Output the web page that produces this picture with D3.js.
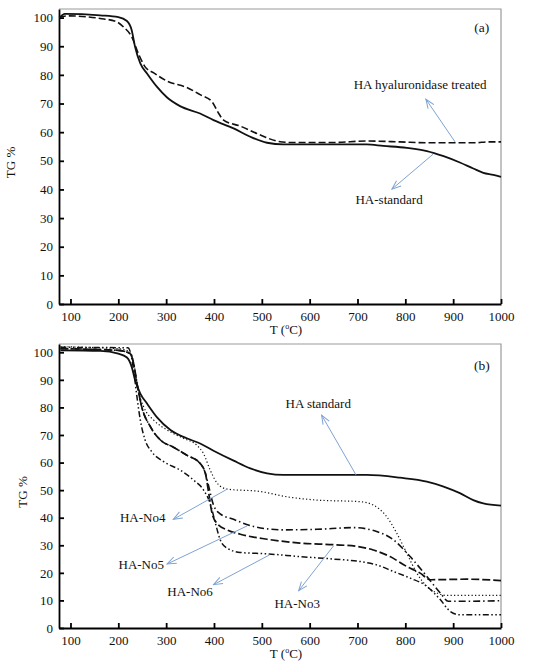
<!DOCTYPE html>
<html>
<head>
<meta charset="utf-8">
<script src="https://cdn.jsdelivr.net/npm/d3@7"></script>
<style>
    body { margin: 0; background: #fff; }
    text { font-family: "Liberation Serif", "DejaVu Serif", serif; fill: #111; }
</style>
</head>
<body>
<div id="chart"></div>
<script>

// ---- data ----
// panel (a)
const tStdA = [78, 88, 162, 200, 218, 228, 235, 246, 260, 281, 302, 329, 371, 399, 441, 476, 511, 545, 650, 719, 754, 803, 845, 880, 914, 942, 963, 984, 1000];
const tgStdA = [100.1, 101.3, 100.8, 100.2, 98.8, 95.6, 89.8, 84, 80.5, 75.8, 72.1, 69.1, 66.5, 64.2, 61.3, 58.4, 56.3, 55.7, 55.7, 55.7, 55.2, 54.5, 53.4, 51.6, 49.4, 47.3, 45.8, 45.1, 44.4];

const tHyal = [76, 93, 162, 197, 211, 228, 242, 256, 274, 302, 343, 371, 396, 410, 420, 455, 497, 531, 559, 650, 719, 789, 845, 914, 949, 970, 1000];
const tgHyal = [100, 100.6, 99.7, 98.5, 96.7, 93.3, 87.4, 82.8, 80.7, 77.8, 75.6, 73.1, 70.6, 66.5, 64.2, 62.1, 59, 56.9, 56.4, 56.4, 56.9, 56.6, 56.3, 56.3, 56.3, 56.6, 56.6];

// panel (b)
const tStdB = [79, 162, 200, 218, 228, 235, 246, 260, 281, 309, 343, 371, 399, 441, 476, 511, 545, 719, 789, 845, 880, 914, 942, 963, 1000];
const tgStdB = [100.7, 100.5, 99.5, 98.1, 94.7, 89.9, 85, 81.4, 76.4, 71.8, 68.8, 66.9, 64.3, 60.7, 57.9, 56.1, 55.5, 55.5, 54.5, 53.1, 51.3, 48.9, 46.4, 45.2, 44.4];

const tNo4 = [79, 200, 225, 235, 242, 253, 274, 302, 336, 364, 378, 392, 406, 427, 497, 552, 615, 706, 733, 761, 782, 803, 824, 845, 866, 887, 1000];
const tgNo4 = [102, 101.3, 100.1, 93.5, 86.2, 80.2, 75.4, 71.8, 68.8, 66.3, 63.3, 57.3, 52.7, 50.4, 49.5, 47.6, 46.4, 45.8, 44.6, 40.4, 34.4, 27.1, 19.9, 15.1, 12.7, 11.8, 11.8];

const tNo3 = [79, 200, 225, 232, 239, 249, 267, 288, 316, 343, 371, 382, 389, 396, 406, 427, 455, 511, 580, 650, 699, 733, 768, 803, 831, 852, 928, 1000];
const tgNo3 = [101.3, 100.7, 99.5, 95.9, 88.7, 80.2, 73, 68.2, 65.5, 62.7, 59.7, 56.1, 48.9, 41.6, 38, 35.6, 34, 32.2, 30.8, 30.2, 29.6, 28.3, 25.9, 22.3, 19.9, 17.5, 17.7, 17.2];

const tNo5 = [79, 200, 225, 232, 239, 249, 267, 288, 316, 343, 371, 382, 389, 399, 413, 441, 483, 545, 615, 692, 740, 775, 810, 845, 873, 890, 928, 1000];
const tgNo5 = [101.3, 100.7, 99.5, 95.9, 88.7, 80.2, 73, 68.2, 65.5, 62.7, 59.7, 56.1, 51.3, 44.6, 41.4, 39.4, 36.8, 35.6, 35.8, 36.4, 35, 32, 25.9, 18.7, 12.7, 9.7, 9.7, 9.9];

const tNo6 = [79, 220, 225, 232, 239, 246, 256, 270, 295, 329, 357, 378, 392, 403, 413, 427, 455, 511, 580, 650, 706, 740, 775, 810, 845, 873, 894, 914, 1000];
const tgNo6 = [101.8, 101.6, 100.1, 93.5, 83.8, 75.4, 68.2, 63.9, 60.3, 57.3, 53.7, 50.1, 45.2, 38, 32, 29, 27.4, 26.9, 25.9, 25, 24.1, 22.9, 20.5, 18.1, 15.1, 10.3, 6, 4.8, 4.8];

const xTicks = [100, 200, 300, 400, 500, 600, 700, 800, 900, 1000];
const yTicks = [0, 10, 20, 30, 40, 50, 60, 70, 80, 90, 100];

// annotation texts with their arrows, in data units [T, TG]
const notesA = [
    {text: "HA hyaluronidase treated", at: [831, 76.7], from: [904, 56.6], to: [843, 71.5]},
    {text: "HA-standard", at: [766, 36.6], from: [858, 52.3], to: [772, 40.1]}
];
const notesB = [
    {text: "HA standard", at: [618, 81.6], from: [697, 55.5], to: [625, 77.2]},
    {text: "HA-No4", at: [251, 40], from: [427, 50.3], to: [315, 39.4]},
    {text: "HA-No5", at: [248, 22.9], from: [469, 37], to: [302, 23.2]},
    {text: "HA-No6", at: [350, 13.2], from: [516, 26.5], to: [399, 15.7]},
    {text: "HA-No3", at: [574, 8.8], from: [650, 29.8], to: [577, 13.5]}
];


class TgPanel {

    constructor(svg, box, series, notes, tag, yLabelX) {
        this.svg = svg;
        this.box = box;
        this.series = series;
        this.notes = notes;
        this.tag = tag;
        this.yLabelX = yLabelX;
        this.initVis();
    }

    initVis() {
        let vis = this;

        vis.x = d3.scaleLinear()
            .domain([76, 1000])
            .range([vis.box.left, vis.box.right]);

        vis.y = d3.scaleLinear()
            .domain([0, 103])
            .range([vis.box.bottom, vis.box.top]);

        vis.g = vis.svg.append("g");

        // thin grey frame on top / right
        vis.g.append("path")
            .attr("d", `M${vis.box.left},${vis.box.top}H${vis.box.right}V${vis.box.bottom}`)
            .attr("fill", "none")
            .attr("stroke", "#9a9a9a")
            .attr("stroke-width", 1.2);

        // AXIS
        let xAxis = d3.axisBottom(vis.x).tickValues(xTicks).tickFormat(d3.format("d"))
            .tickSizeInner(-5).tickSizeOuter(0).tickPadding(8);
        let yAxis = d3.axisLeft(vis.y).tickValues(yTicks).tickFormat(d3.format("d"))
            .tickSizeInner(-5).tickSizeOuter(0).tickPadding(6);

        vis.g.append("g")
            .attr("class", "x-axis axis")
            .attr("transform", "translate(0," + vis.box.bottom + ")")
            .call(xAxis);

        vis.g.append("g")
            .attr("class", "y-axis axis")
            .attr("transform", "translate(" + vis.box.left + ",0)")
            .call(yAxis);

        vis.g.selectAll(".axis path, .axis line")
            .attr("stroke", "#000")
            .attr("stroke-width", 1.8);
        vis.g.selectAll(".axis text")
            .attr("font-size", 13)
            .attr("fill", "#111");

        // labels
        vis.g.append("text")
            .attr("transform", `translate(${vis.yLabelX},${(vis.box.top + vis.box.bottom) / 2 + 6}) rotate(-90)`)
            .attr("text-anchor", "middle")
            .attr("font-size", 13)
            .text("TG %");

        let xl = vis.g.append("text")
            .attr("x", 286)
            .attr("y", vis.box.bottom + 30)
            .attr("text-anchor", "middle")
            .attr("font-size", 13);
        xl.append("tspan").text("T (");
        xl.append("tspan").attr("font-size", 8).attr("dy", -5).text("o");
        xl.append("tspan").attr("dy", 5).text("C)");

        vis.g.append("text")
            .attr("x", vis.x(960))
            .attr("y", vis.y(vis.tag === "(a)" ? 96.6 : 95.3))
            .attr("dy", "0.35em")
            .attr("text-anchor", "middle")
            .attr("font-size", 13.5)
            .text(vis.tag);

        vis.updateVis();
    }

    updateVis() {
        let vis = this;

        let line = d3.line()
            .x(d => vis.x(d[0]))
            .y(d => vis.y(d[1]))
            .curve(d3.curveMonotoneX);

        vis.g.selectAll(".tg-line")
            .data(vis.series)
            .enter().append("path")
            .attr("class", "tg-line")
            .attr("fill", "none")
            .attr("stroke", "#111")
            .attr("stroke-width", d => d.width)
            .attr("stroke-dasharray", d => d.dash)
            .attr("d", d => line(d.t.map((t, i) => [t, d.tg[i]])));

        // arrows
        vis.g.selectAll(".note-arrow")
            .data(vis.notes)
            .enter().append("line")
            .attr("class", "note-arrow")
            .attr("x1", d => vis.x(d.from[0]))
            .attr("y1", d => vis.y(d.from[1]))
            .attr("x2", d => vis.x(d.to[0]))
            .attr("y2", d => vis.y(d.to[1]))
            .attr("stroke", "#7ea3d4")
            .attr("stroke-width", 1)
            .attr("marker-end", "url(#arrowHead)");

        vis.g.selectAll(".note-text")
            .data(vis.notes)
            .enter().append("text")
            .attr("class", "note-text")
            .attr("x", d => vis.x(d.at[0]))
            .attr("y", d => vis.y(d.at[1]))
            .attr("dy", "0.35em")
            .attr("text-anchor", "middle")
            .attr("font-size", 13)
            .text(d => d.text);
    }
}


let svg = d3.select("#chart").append("svg")
    .attr("width", 550)
    .attr("height", 664);

svg.append("defs").append("marker")
    .attr("id", "arrowHead")
    .attr("viewBox", "-1 -5 11 10")
    .attr("refX", 9)
    .attr("refY", 0)
    .attr("markerWidth", 11)
    .attr("markerHeight", 10)
    .attr("markerUnits", "userSpaceOnUse")
    .attr("orient", "auto")
    .append("path")
    .attr("d", "M0,-3.5L9,0L0,3.5")
    .attr("fill", "none")
    .attr("stroke", "#7ea3d4")
    .attr("stroke-width", 1);

new TgPanel(svg, {left: 59, right: 501, top: 9, bottom: 304},
    [
        {t: tHyal, tg: tgHyal, width: 1.6, dash: "7,3"},
        {t: tStdA, tg: tgStdA, width: 1.8, dash: null}
    ],
    notesA, "(a)", 15);

new TgPanel(svg, {left: 59, right: 501, top: 344, bottom: 628},
    [
        {t: tStdB, tg: tgStdB, width: 1.8, dash: null},
        {t: tNo4, tg: tgNo4, width: 1.2, dash: "1.2,2.3"},
        {t: tNo3, tg: tgNo3, width: 1.7, dash: "8,3"},
        {t: tNo5, tg: tgNo5, width: 1.6, dash: "7,3,1.5,3"},
        {t: tNo6, tg: tgNo6, width: 1.5, dash: "6,2.5,1.5,2.5,1.5,2.5"}
    ],
    notesB, "(b)", 27);

</script>
</body>
</html>
